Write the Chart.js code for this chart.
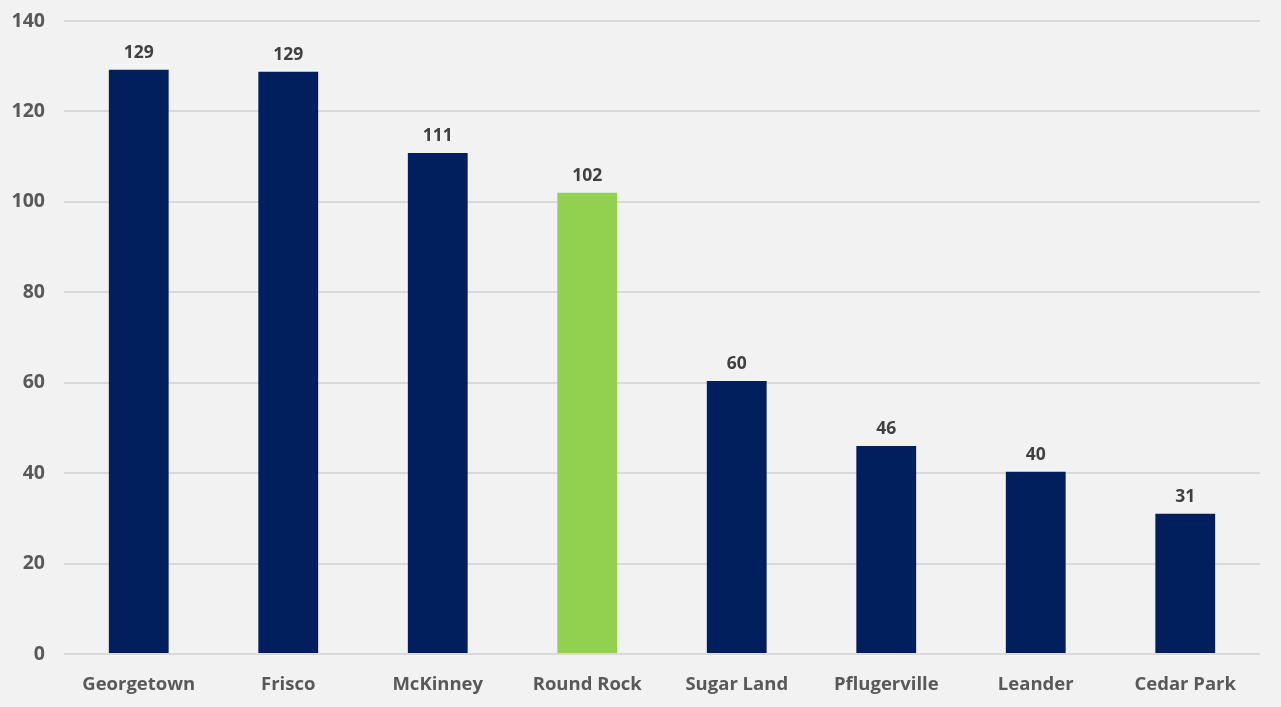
<!DOCTYPE html>
<html>
<head>
<meta charset="utf-8">
<script src="https://cdn.jsdelivr.net/npm/chart.js@4"></script>
<style>
  html, body { margin: 0; padding: 0; background: #f2f2f2; }
  #wrap { width: 1281px; height: 707px; }
</style>
</head>
<body>
<div id="wrap"><canvas id="cityChart" width="1281" height="707"></canvas></div>
<script>
const cities = ["Georgetown", "Frisco", "McKinney", "Round Rock", "Sugar Land", "Pflugerville", "Leander", "Cedar Park"];
const values = [129.2, 128.8, 110.8, 102, 60.4, 46, 40.3, 31];
const highlight = "Round Rock";
const yTicks = [0, 20, 40, 60, 80, 100, 120, 140];

const navy = "#001f5c";
const green = "#92d050";
const fontFamily = "'Open Sans', 'Noto Sans', sans-serif";

// etiquetas de valor sobre as barras
const valueLabels = {
  id: "valueLabels",
  afterDatasetsDraw(chart) {
    const ctx = chart.ctx;
    const meta = chart.getDatasetMeta(0);
    ctx.save();
    ctx.font = "bold 17.5px " + fontFamily;
    ctx.fillStyle = "#404040";
    ctx.textAlign = "center";
    ctx.textBaseline = "bottom";
    meta.data.forEach((bar, i) => {
      ctx.fillText(Math.round(values[i]), bar.x, bar.y - 8);
    });
    ctx.restore();
  }
};

new Chart(document.getElementById("cityChart"), {
  type: "bar",
  data: {
    labels: cities,
    datasets: [{
      data: values,
      backgroundColor: cities.map((c) => (c === highlight ? green : navy)),
      barPercentage: 0.4,
      categoryPercentage: 1.0,
    }],
  },
  options: {
    responsive: false,
    animation: false,
    layout: { padding: { top: 21, right: 21, left: 0, bottom: 0 } },
    plugins: {
      legend: { display: false },
      tooltip: { enabled: false },
    },
    scales: {
      x: {
        grid: { display: false },
        border: { display: false },
        ticks: {
          color: "#595959",
          font: { family: fontFamily, size: 18.5, weight: "bold" },
          padding: 12,
          maxRotation: 0,
        },
        afterFit(scale) { scale.height = 53; },
      },
      y: {
        min: 0,
        max: 140,
        afterBuildTicks(scale) { scale.ticks = yTicks.map((v) => ({ value: v })); },
        grid: { color: "#d9d9d9", lineWidth: 2, drawTicks: false },
        border: { display: false },
        ticks: {
          color: "#595959",
          font: { family: fontFamily, size: 19.5, weight: "bold" },
          padding: 19,
        },
        afterFit(scale) {
          scale.width = 64;
          scale.paddingTop = 0;
          scale.paddingBottom = 0;
        },
      },
    },
  },
  plugins: [valueLabels],
});
</script>
</body>
</html>
